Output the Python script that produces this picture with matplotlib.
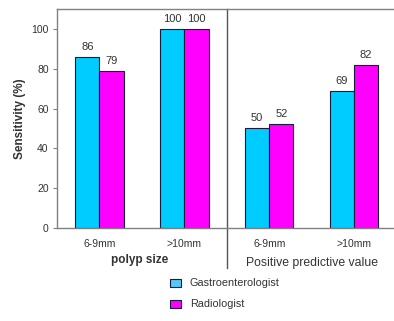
import matplotlib
matplotlib.use("Agg")
import matplotlib.pyplot as plt
import numpy as np
from matplotlib.lines import Line2D
from matplotlib.patches import Rectangle

plt.rcParams['font.family'] = ['Liberation Sans', 'DejaVu Sans']

categories = ["6-9mm", ">10mm", "6-9mm", ">10mm"]
gastro = [86, 100, 50, 69]
radio = [79, 100, 52, 82]
series_names = ["Gastroenterologist", "Radiologist"]
yticks = [0, 20, 40, 60, 80, 100]

cyan = "#00CCFF"
cyan_leg = "#55C8F8"
magenta = "#FF00FF"
edge = "#1a1a40"
axcol = "#808080"
txt = "#333333"

fig = plt.figure(figsize=(3.94, 3.21), dpi=100)
fig.patch.set_facecolor("white")
ax = fig.add_axes([57/394, 1-228/321, (396.5-57)/394, 219/321])

x = np.arange(len(categories))
w = 0.285
b1 = ax.bar(x - w/2, gastro, w, color=cyan, edgecolor=edge, linewidth=0.8)
b2 = ax.bar(x + w/2, radio, w, color=magenta, edgecolor=edge, linewidth=0.8)
for bars, vals in ((b1, gastro), (b2, radio)):
    for r, v in zip(bars, vals):
        ax.text(r.get_x() + r.get_width()/2, v + 2.5, f"{v}", ha="center", va="bottom",
                fontsize=8, color=txt)

ax.set_xlim(-0.5, 3.5)
ax.set_ylim(0, 110)
ax.set_yticks(yticks)
ax.set_yticklabels([str(t) for t in yticks], fontsize=7.5, color=txt)
ax.set_xticks(x)
ax.set_xticklabels(categories, fontsize=7.5, color=txt)
ax.tick_params(axis='x', length=0, pad=8)
ax.tick_params(axis='y', length=3, width=0.8, color=axcol, pad=3, direction='out')
for s in ax.spines.values():
    s.set_color(axcol)
    s.set_linewidth(1.0)
ax.set_ylabel("Sensitivity (%)", fontsize=8.5, fontweight='bold', color=txt, labelpad=4)

# divider line
ax.add_line(Line2D([1.5, 1.5], [1, -40/219], transform=ax.get_xaxis_transform(),
                   color="#555555", linewidth=1.0, clip_on=False))

fig.text(140/394, 1-260/321, "polyp size", ha="center", va="center", fontsize=8.5,
         fontweight='bold', color=txt)
fig.text(312/394, 1-263/321, "Positive predictive value", ha="center", va="center",
         fontsize=8.8, color=txt)

# legend
for i, (name, col) in enumerate(zip(series_names, [cyan_leg, magenta])):
    yc = 283 + i*21
    fig.patches.append(Rectangle((170/394, 1-(yc+4)/321), 11/394, 8/321,
                                 transform=fig.transFigure, facecolor=col,
                                 edgecolor=edge, linewidth=0.8))
    fig.text(190/394, 1-yc/321, name, ha="left", va="center", fontsize=7.8, color=txt)

fig.savefig("out.png", dpi=100)
